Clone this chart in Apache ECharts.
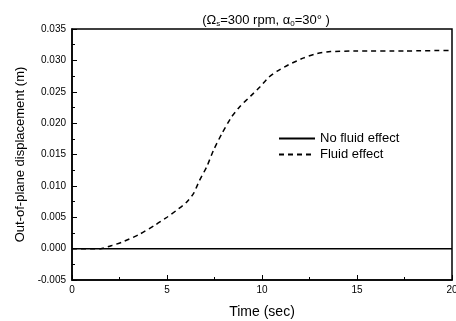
<!DOCTYPE html>
<html>
<head>
<meta charset="utf-8">
<script src="https://cdn.jsdelivr.net/npm/echarts@6/dist/echarts.min.js"></script>
<style>
  html, body { margin: 0; padding: 0; background: #fff; }
  #chart { width: 456px; height: 321px; }
</style>
</head>
<body>
<div id="chart"></div>
<script>
// data
var timeNoFluid = [0, 20];
var dispNoFluid = [0, 0];
var timeFluid = [0, 1.5, 2.1, 2.6, 3.5, 4.4, 5.0, 5.5, 6.0, 6.4, 6.7, 7.1, 7.45, 7.9, 8.4, 8.85, 9.4, 9.9, 10.35, 10.8, 11.4, 12.2, 12.9, 13.6, 15, 17.5, 20];
var dispFluid = [0, 0, 0.0005, 0.0010, 0.0022, 0.0038, 0.0050, 0.0061, 0.0073, 0.0088, 0.0108, 0.0131, 0.0157, 0.0184, 0.0210, 0.0227, 0.0243, 0.0258, 0.0273, 0.0283, 0.0293, 0.0304, 0.0311, 0.0314, 0.0315, 0.0315, 0.0316];
var xTicks = [0, 5, 10, 15, 20];
var yTicks = [-0.005, 0, 0.005, 0.01, 0.015, 0.02, 0.025, 0.03, 0.035];

function pairs(xs, ys) {
	var out = [];
	for (var i = 0; i < xs.length; i++) out.push([xs[i], ys[i]]);
	return out;
}

var chart = echarts.init(document.getElementById('chart'));
var font = 'Liberation Sans, Arial, sans-serif';

var option = {
	animation: false,
	backgroundColor: '#fff',
	textStyle: { fontFamily: font, color: '#000' },
	title: {
		text: '{a|(Ω}{s|s}{a|=300 rpm, α}{s|0}{a|=30° )}',
		left: 261,
		top: 7,
		textAlign: 'center',
		textStyle: {
			fontWeight: 'normal',
			rich: {
				a: { fontFamily: font, fontSize: 13, fontWeight: 'normal', color: '#000' },
				s: { fontFamily: font, fontSize: 8, fontWeight: 'normal', color: '#000', padding: [8, 0, 0, 0] }
			}
		}
	},
	legend: {
		orient: 'vertical',
		left: 278,
		top: 132,
		padding: 0,
		itemWidth: 36,
		itemHeight: 8,
		itemGap: 3,
		itemStyle: { opacity: 0 },
		textStyle: { fontFamily: font, fontSize: 13, color: '#000' },
		data: ['No fluid effect', 'Fluid effect']
	},
	grid: {
		left: 72, right: 4, top: 29, bottom: 41,
		outerBoundsMode: 'none',
		show: true, borderColor: '#000', borderWidth: 1.5, backgroundColor: 'transparent'
	},
	xAxis: {
		type: 'value',
		min: xTicks[0],
		max: xTicks[xTicks.length - 1],
		interval: 5,
		name: 'Time (sec)',
		nameLocation: 'middle',
		nameGap: 25,
		nameTextStyle: { fontFamily: font, fontSize: 14, color: '#000' },
		axisLine: { show: true, onZero: false, lineStyle: { color: '#000', width: 1.5 } },
		axisTick: { show: true, inside: true, length: 5, lineStyle: { color: '#000' } },
		minorTick: { show: true, splitNumber: 2, length: 3, lineStyle: { color: '#000' } },
		axisLabel: { fontFamily: font, fontSize: 10, color: '#000', margin: 5 },
		splitLine: { show: false }
	},
	yAxis: {
		type: 'value',
		min: yTicks[0],
		max: yTicks[yTicks.length - 1],
		interval: 0.005,
		name: 'Out-of-plane displacement (m)',
		nameLocation: 'middle',
		nameGap: 45,
		nameTextStyle: { fontFamily: font, fontSize: 13, color: '#000' },
		axisLine: { show: true, lineStyle: { color: '#000', width: 1.5 } },
		axisTick: { show: true, inside: true, length: 5, lineStyle: { color: '#000' } },
		minorTick: { show: true, splitNumber: 2, length: 3, lineStyle: { color: '#000' } },
		axisLabel: {
			fontFamily: font, fontSize: 10, color: '#000', margin: 6,
			formatter: function (v) { return v.toFixed(3); }
		},
		splitLine: { show: false }
	},
	series: [
		{
			name: 'No fluid effect',
			type: 'line',
			data: pairs(timeNoFluid, dispNoFluid),
			symbol: 'none',
			lineStyle: { color: '#000', width: 1.5, type: 'solid' },
			itemStyle: { color: '#000' }
		},
		{
			name: 'Fluid effect',
			type: 'line',
			data: pairs(timeFluid, dispFluid),
			symbol: 'none',
			smooth: 0.2,
			lineStyle: { color: '#000', width: 1.5, type: [5, 4] },
			itemStyle: { color: '#000' }
		}
	]
};
chart.setOption(option);
</script>
</body>
</html>
